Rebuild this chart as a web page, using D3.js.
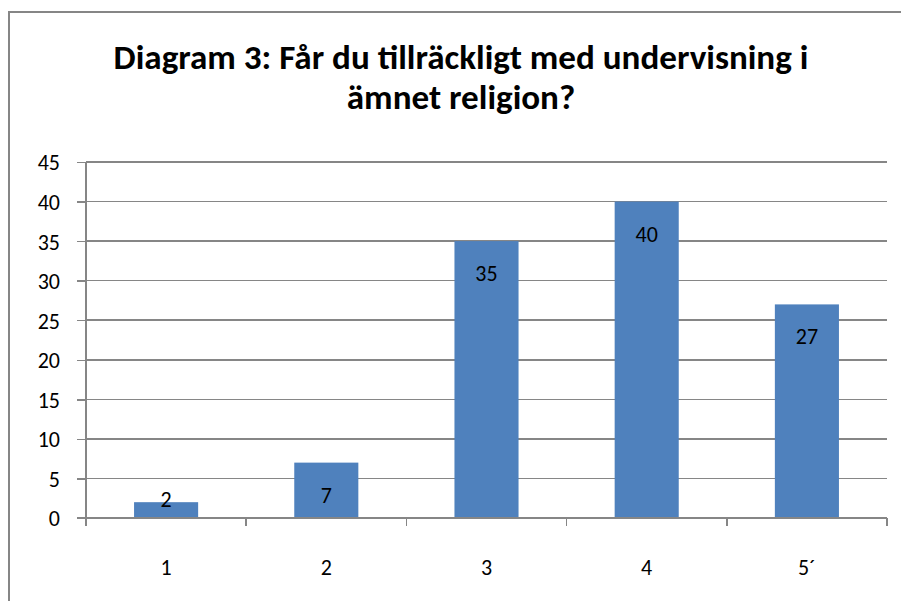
<!DOCTYPE html>
<meta charset="utf-8">
<style>
body { margin: 0; background: #fff; }
text { font-family: Carlito, Calibri, Lato, "Open Sans", sans-serif; fill: #000; }
.axis path, .axis line { stroke: #868686; stroke-width: 1.5; shape-rendering: crispEdges; }
.grid line { stroke: #868686; stroke-width: 1.5; shape-rendering: crispEdges; }
</style>
<div class="chart"></div>
<script src="https://d3js.org/d3.v7.min.js"></script>
<script>
    var categories = ["1", "2", "3", "4", "5´"];
    var values = [2, 7, 35, 40, 27];
    var yTicks = [0, 5, 10, 15, 20, 25, 30, 35, 40, 45];
    var titleLines = ["Diagram 3: Får du tillräckligt med undervisning i", "ämnet religion?"];

    var W = 901, H = 601;
    var margin = { top: 162, right: 14, bottom: 83, left: 86 };
    var width = W - margin.left - margin.right;
    var height = H - margin.top - margin.bottom;
    var labelSize = "22px";

    var root = d3.select(".chart").append("svg")
        .attr("width", W)
        .attr("height", H);

    // chart frame
    root.append("rect")
        .attr("x", 9).attr("y", 12)
        .attr("width", W).attr("height", H)
        .attr("fill", "#fff")
        .attr("stroke", "#868686")
        .attr("stroke-width", 2);

    var title = root.append("text")
        .attr("text-anchor", "middle")
        .style("font-weight", "bold")
        .style("font-size", "30px");
    title.selectAll("tspan")
        .data(titleLines)
        .enter().append("tspan")
        .attr("x", 461)
        .attr("y", function (d, i) { return 69 + i * 40; })
        .text(function (d) { return d; });
    // fit first line to the width of the original title
    var w0 = title.select("tspan").node().getComputedTextLength();
    title.style("font-size", (30 * 695 / w0) + "px");

    var svg = root.append("g")
        .attr("transform", "translate(" + margin.left + "," + margin.top + ")");

    var x = d3.scaleBand().domain(categories).range([0, width]);
    var y = d3.scaleLinear().domain([0, 45]).range([height, 0]);

    svg.append("g")
        .attr("class", "grid")
        .selectAll("line")
        .data(yTicks)
        .enter().append("line")
        .attr("x1", 0).attr("x2", width)
        .attr("y1", function (d) { return y(d); })
        .attr("y2", function (d) { return y(d); });

    var barW = x.bandwidth() * 0.4;
    svg.selectAll(".bar")
        .data(values)
        .enter().append("rect")
        .attr("class", "bar")
        .attr("x", function (d, i) { return x(categories[i]) + (x.bandwidth() - barW) / 2; })
        .attr("y", function (d) { return y(d); })
        .attr("width", barW)
        .attr("height", function (d) { return height - y(d); })
        .attr("fill", "#4F81BD");

    svg.selectAll(".lbl")
        .data(values)
        .enter().append("text")
        .attr("class", "lbl")
        .attr("text-anchor", "middle")
        .style("font-size", labelSize)
        .attr("x", function (d, i) { return x(categories[i]) + x.bandwidth() / 2; })
        .attr("y", function (d) { return Math.min(y(d) + 32, height - 19) + 8; })
        .text(function (d) { return d; });

    var yAxis = svg.append("g")
        .attr("class", "y axis")
        .call(d3.axisLeft(y).tickValues(yTicks).tickSizeInner(9).tickSizeOuter(0).tickPadding(17));
    yAxis.select(".domain").remove();
    yAxis.selectAll("text")
        .style("font-size", labelSize)
        .attr("font-family", null)
        .attr("dy", "0.36em");
    yAxis.append("line")
        .attr("x1", 0).attr("x2", 0)
        .attr("y1", 0).attr("y2", height);

    var tickPos = d3.range(categories.length + 1).map(function (i) { return i * x.step(); });
    var xAxis = svg.append("g")
        .attr("class", "x axis")
        .attr("transform", "translate(0," + height + ")");
    xAxis.append("line")
        .attr("x1", -9).attr("x2", width);
    xAxis.selectAll(".tk")
        .data(tickPos)
        .enter().append("line")
        .attr("class", "tk")
        .attr("x1", function (d) { return d; }).attr("x2", function (d) { return d; })
        .attr("y1", 0).attr("y2", 8);
    xAxis.selectAll(".xl")
        .data(categories)
        .enter().append("text")
        .attr("class", "xl")
        .attr("text-anchor", "middle")
        .style("font-size", labelSize)
        .attr("x", function (d) { return x(d) + x.bandwidth() / 2; })
        .attr("y", 57)
        .text(function (d) { return d; });
</script>
